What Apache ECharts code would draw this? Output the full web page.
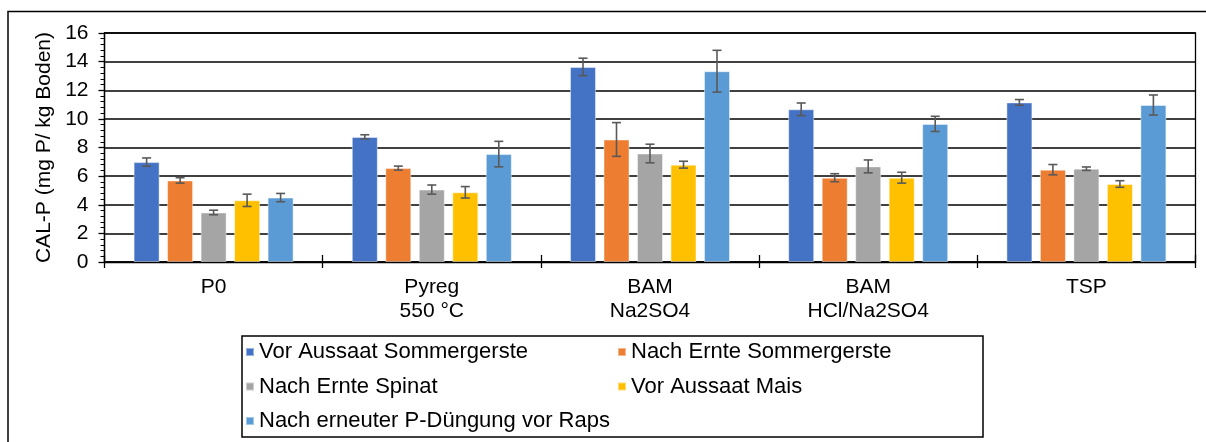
<!DOCTYPE html>
<html>
<head>
<meta charset="utf-8">
<script src="https://cdn.jsdelivr.net/npm/echarts@6/dist/echarts.min.js"></script>
<style>
html,body{margin:0;padding:0;background:#fff;}
#chart{width:1206px;height:442px;}
</style>
</head>
<body>
<div id="chart"></div>
<script>
const categories = ['P0', 'Pyreg\n550 °C', 'BAM\nNa2SO4', 'BAM\nHCl/Na2SO4', 'TSP'];
const seriesNames = ['Vor Aussaat Sommergerste', 'Nach Ernte Sommergerste', 'Nach Ernte Spinat', 'Vor Aussaat Mais', 'Nach erneuter P-Düngung vor Raps'];
const seriesColors = ['#4472C4', '#ED7D31', '#A5A5A5', '#FFC000', '#5B9BD5'];
const vorAussaatSommergerste = [6.98, 8.74, 13.63, 10.67, 11.15];
const nachErnteSommergerste = [5.70, 6.56, 8.56, 5.89, 6.45];
const nachErnteSpinat = [3.46, 5.06, 7.58, 6.68, 6.52];
const vorAussaatMais = [4.31, 4.87, 6.80, 5.89, 5.45];
const nachPDuengungRaps = [4.50, 7.54, 13.33, 9.65, 10.97];
const errVorAussaatSommergerste = [0.29, 0.15, 0.61, 0.44, 0.20];
const errNachErnteSommergerste = [0.19, 0.14, 1.18, 0.28, 0.36];
const errNachErnteSpinat = [0.16, 0.32, 0.65, 0.45, 0.12];
const errVorAussaatMais = [0.43, 0.40, 0.24, 0.38, 0.23];
const errNachPDuengungRaps = [0.29, 0.89, 1.46, 0.53, 0.70];
const yTicks = [0, 2, 4, 6, 8, 10, 12, 14, 16];

const values = [vorAussaatSommergerste, nachErnteSommergerste, nachErnteSpinat, vorAussaatMais, nachPDuengungRaps];
const errors = [errVorAussaatSommergerste, errNachErnteSommergerste, errNachErnteSpinat, errVorAussaatMais, errNachPDuengungRaps];

const BAR_W = 26, BAR_PITCH = 33.5, FONT = 'Liberation Sans, Arial, sans-serif';

const chart = echarts.init(document.getElementById('chart'), null, {renderer: 'canvas'});

const series = [];
values.forEach((vals, s) => {
  series.push({
    name: seriesNames[s],
    type: 'bar',
    data: vals,
    barWidth: BAR_W,
    barGap: ((BAR_PITCH - BAR_W) / BAR_W * 100) + '%',
    itemStyle: {color: seriesColors[s], borderColor: 'rgba(255,255,255,0.45)', borderWidth: 1},
    emphasis: {disabled: true},
    z: 2
  });
});
values.forEach((vals, s) => {
  series.push({
    type: 'custom',
    name: seriesNames[s] + ' err',
    data: vals.map((v, i) => [i, v, errors[s][i]]),
    z: 5,
    silent: true,
    renderItem: function (params, api) {
      const i = api.value(0), v = api.value(1), e = api.value(2);
      const hi = api.coord([i, v + e]);
      const lo = api.coord([i, v - e]);
      const x = hi[0] + (s - 2) * BAR_PITCH;
      const cw = 4.5;
      const style = {stroke: '#595959', lineWidth: 1.6};
      return {
        type: 'group',
        children: [
          {type: 'line', shape: {x1: x, y1: hi[1], x2: x, y2: lo[1]}, style: style},
          {type: 'line', shape: {x1: x - cw, y1: hi[1], x2: x + cw, y2: hi[1]}, style: style},
          {type: 'line', shape: {x1: x - cw, y1: lo[1], x2: x + cw, y2: lo[1]}, style: style}
        ]
      };
    }
  });
});

chart.setOption({
  animation: false,
  backgroundColor: '#fff',
  textStyle: {fontFamily: FONT},
  grid: {left: 104.5, right: 10.5, top: 33, bottom: 180, show: true, borderColor: '#000', borderWidth: 1.3},
  legend: {
    data: seriesNames,
    left: 242, top: 336, width: 740,
    orient: 'horizontal',
    itemWidth: 8, itemHeight: 8, itemGap: 12.5,
    padding: [5, 6.5, 5, 3],
    borderColor: '#000', borderWidth: 1.5,
    icon: 'rect',
    selectedMode: false,
    textStyle: {fontFamily: FONT, fontSize: 22, color: '#000', width: 345.5, lineHeight: 22, overflow: 'none'}
  },
  xAxis: [{
    type: 'category',
    data: categories,
    axisLine: {lineStyle: {color: '#000', width: 1.3}},
    axisTick: {show: true, interval: 0, length: 6, lineStyle: {color: '#000', width: 1.3}},
    axisLabel: {fontFamily: FONT, fontSize: 21, color: '#000', lineHeight: 24, margin: 13, interval: 0},
    splitLine: {show: false}
  }, {
    type: 'category',
    data: categories,
    position: 'bottom',
    axisLine: {show: false},
    axisTick: {show: true, inside: true, interval: 0, length: 7, lineStyle: {color: '#000', width: 1.3}},
    axisLabel: {show: false},
    splitLine: {show: false}
  }],
  yAxis: {
    type: 'value',
    min: yTicks[0], max: yTicks[yTicks.length - 1], interval: 2,
    name: 'CAL-P (mg P/ kg Boden)',
    nameLocation: 'middle', nameGap: 50,
    nameTextStyle: {fontFamily: FONT, fontSize: 21, color: '#000'},
    axisLine: {show: true, lineStyle: {color: '#000', width: 1.3}},
    axisTick: {show: true, length: 6, lineStyle: {color: '#000', width: 1.3}},
    minorTick: {show: true, splitNumber: 5, length: 4, lineStyle: {color: '#000', width: 1}},
    axisLabel: {fontFamily: FONT, fontSize: 21, color: '#000', margin: 16},
    splitLine: {show: true, lineStyle: {color: '#000', width: 1.5}}
  },
  graphic: [{
    type: 'rect', silent: true, z: 100,
    shape: {x: 8, y: 11.5, width: 1400, height: 600},
    style: {fill: 'none', stroke: '#000', lineWidth: 1.5}
  }],
  series: series
});
</script>
</body>
</html>
